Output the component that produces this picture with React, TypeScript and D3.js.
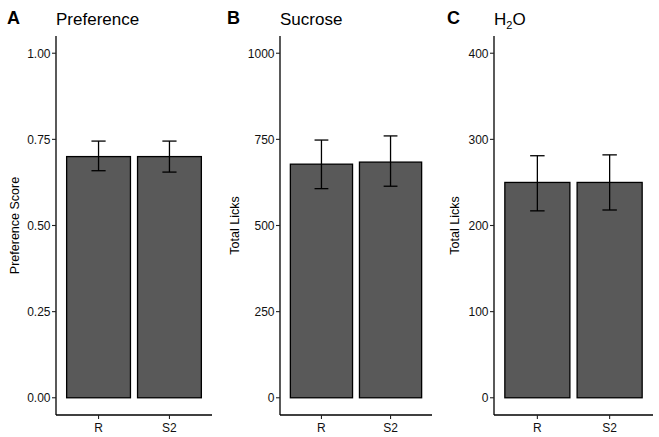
import React from "react";
import * as d3 from "d3";

const categories = ["R", "S2"];

const prefMeans = [0.70, 0.70];
const prefLower = [0.659, 0.655];
const prefUpper = [0.745, 0.745];
const prefTicks = [0, 0.25, 0.5, 0.75, 1.0];

const sucMeans = [678, 684];
const sucLower = [607, 614];
const sucUpper = [748, 760];
const sucTicks = [0, 250, 500, 750, 1000];

const h2oMeans = [250, 250];
const h2oLower = [217, 218];
const h2oUpper = [281, 282];
const h2oTicks = [0, 100, 200, 300, 400];

const W = 659;
const H = 437;
const TOP = 36;
const BOTTOM = 415;
const FONT = "Liberation Sans, Arial, sans-serif";

type PanelDef = {
  letter: string;
  title: React.ReactNode;
  yLabel: string;
  means: number[];
  lower: number[];
  upper: number[];
  ticks: number[];
  fmt: (v: number) => string;
  max: number;
  offset: number;
  axisX: number;
  rightX: number;
};

function Panel({ p }: { p: PanelDef }) {
  const y = d3
    .scaleLinear()
    .domain([-0.05 * p.max, 1.05 * p.max])
    .range([BOTTOM, TOP]);
  const x = d3
    .scalePoint<string>()
    .domain(categories)
    .range([p.axisX, p.rightX])
    .padding(0.6);
  const step = x.step();
  const barW = step * 0.9;
  const capW = step * 0.2;
  const midY = (TOP + BOTTOM) / 2;
  return (
    <g>
      <text x={p.offset + 7} y={24} fontFamily={FONT} fontWeight="bold" fontSize={18} fill="#000">
        {p.letter}
      </text>
      <text x={p.axisX} y={25} fontFamily={FONT} fontSize={17} fill="#000">
        {p.title}
      </text>
      {categories.map((c, i) => (
        <rect
          key={"b" + c}
          x={(x(c) as number) - barW / 2}
          y={y(p.means[i])}
          width={barW}
          height={y(0) - y(p.means[i])}
          fill="#595959"
          stroke="#000"
          strokeWidth={1.3}
        />
      ))}
      {categories.map((c, i) => {
        const cx = x(c) as number;
        return (
          <g key={"e" + c} stroke="#000" strokeWidth={1.3} fill="none">
            <line x1={cx} x2={cx} y1={y(p.lower[i])} y2={y(p.upper[i])} />
            <line x1={cx - capW / 2} x2={cx + capW / 2} y1={y(p.upper[i])} y2={y(p.upper[i])} />
            <line x1={cx - capW / 2} x2={cx + capW / 2} y1={y(p.lower[i])} y2={y(p.lower[i])} />
          </g>
        );
      })}
      <line x1={p.axisX} x2={p.axisX} y1={TOP} y2={BOTTOM} stroke="#000" strokeWidth={1.3} />
      <line x1={p.axisX} x2={p.rightX} y1={BOTTOM} y2={BOTTOM} stroke="#000" strokeWidth={1.3} />
      {p.ticks.map((t) => (
        <g key={"t" + t}>
          <line x1={p.axisX - 4} x2={p.axisX} y1={y(t)} y2={y(t)} stroke="#222" strokeWidth={1.1} />
          <text
            x={p.axisX - 5.5}
            y={y(t)}
            dy="0.36em"
            textAnchor="end"
            fontFamily={FONT}
            fontSize={12}
            fill="#111"
          >
            {p.fmt(t)}
          </text>
        </g>
      ))}
      {categories.map((c) => (
        <g key={"x" + c}>
          <line x1={x(c)} x2={x(c)} y1={BOTTOM} y2={BOTTOM + 4} stroke="#222" strokeWidth={1.1} />
          <text
            x={x(c)}
            y={BOTTOM + 17}
            textAnchor="middle"
            fontFamily={FONT}
            fontSize={12}
            fill="#111"
          >
            {c}
          </text>
        </g>
      ))}
      <text
        transform={`translate(${p.offset + 18.5},${midY}) rotate(-90)`}
        textAnchor="middle"
        fontFamily={FONT}
        fontSize={12.5}
        fill="#000"
      >
        {p.yLabel}
      </text>
    </g>
  );
}

export default function App() {
  const panels: PanelDef[] = [
    {
      letter: "A",
      title: "Preference",
      yLabel: "Preference Score",
      means: prefMeans,
      lower: prefLower,
      upper: prefUpper,
      ticks: prefTicks,
      fmt: d3.format(".2f"),
      max: 1,
      offset: 0,
      axisX: 56,
      rightX: 212,
    },
    {
      letter: "B",
      title: "Sucrose",
      yLabel: "Total Licks",
      means: sucMeans,
      lower: sucLower,
      upper: sucUpper,
      ticks: sucTicks,
      fmt: d3.format("d"),
      max: 1000,
      offset: 220,
      axisX: 280,
      rightX: 432,
    },
    {
      letter: "C",
      title: (
        <>
          H<tspan fontSize={11} dy={4}>2</tspan>
          <tspan dy={-4}>O</tspan>
        </>
      ),
      yLabel: "Total Licks",
      means: h2oMeans,
      lower: h2oLower,
      upper: h2oUpper,
      ticks: h2oTicks,
      fmt: d3.format("d"),
      max: 400,
      offset: 440,
      axisX: 494,
      rightX: 653,
    },
  ];
  return (
    <svg
      width={W}
      height={H}
      style={{ position: "absolute", left: 0, top: 0, background: "#fff" }}
    >
      <rect width={W} height={H} fill="#fff" />
      {panels.map((p) => (
        <Panel key={p.letter} p={p} />
      ))}
    </svg>
  );
}
